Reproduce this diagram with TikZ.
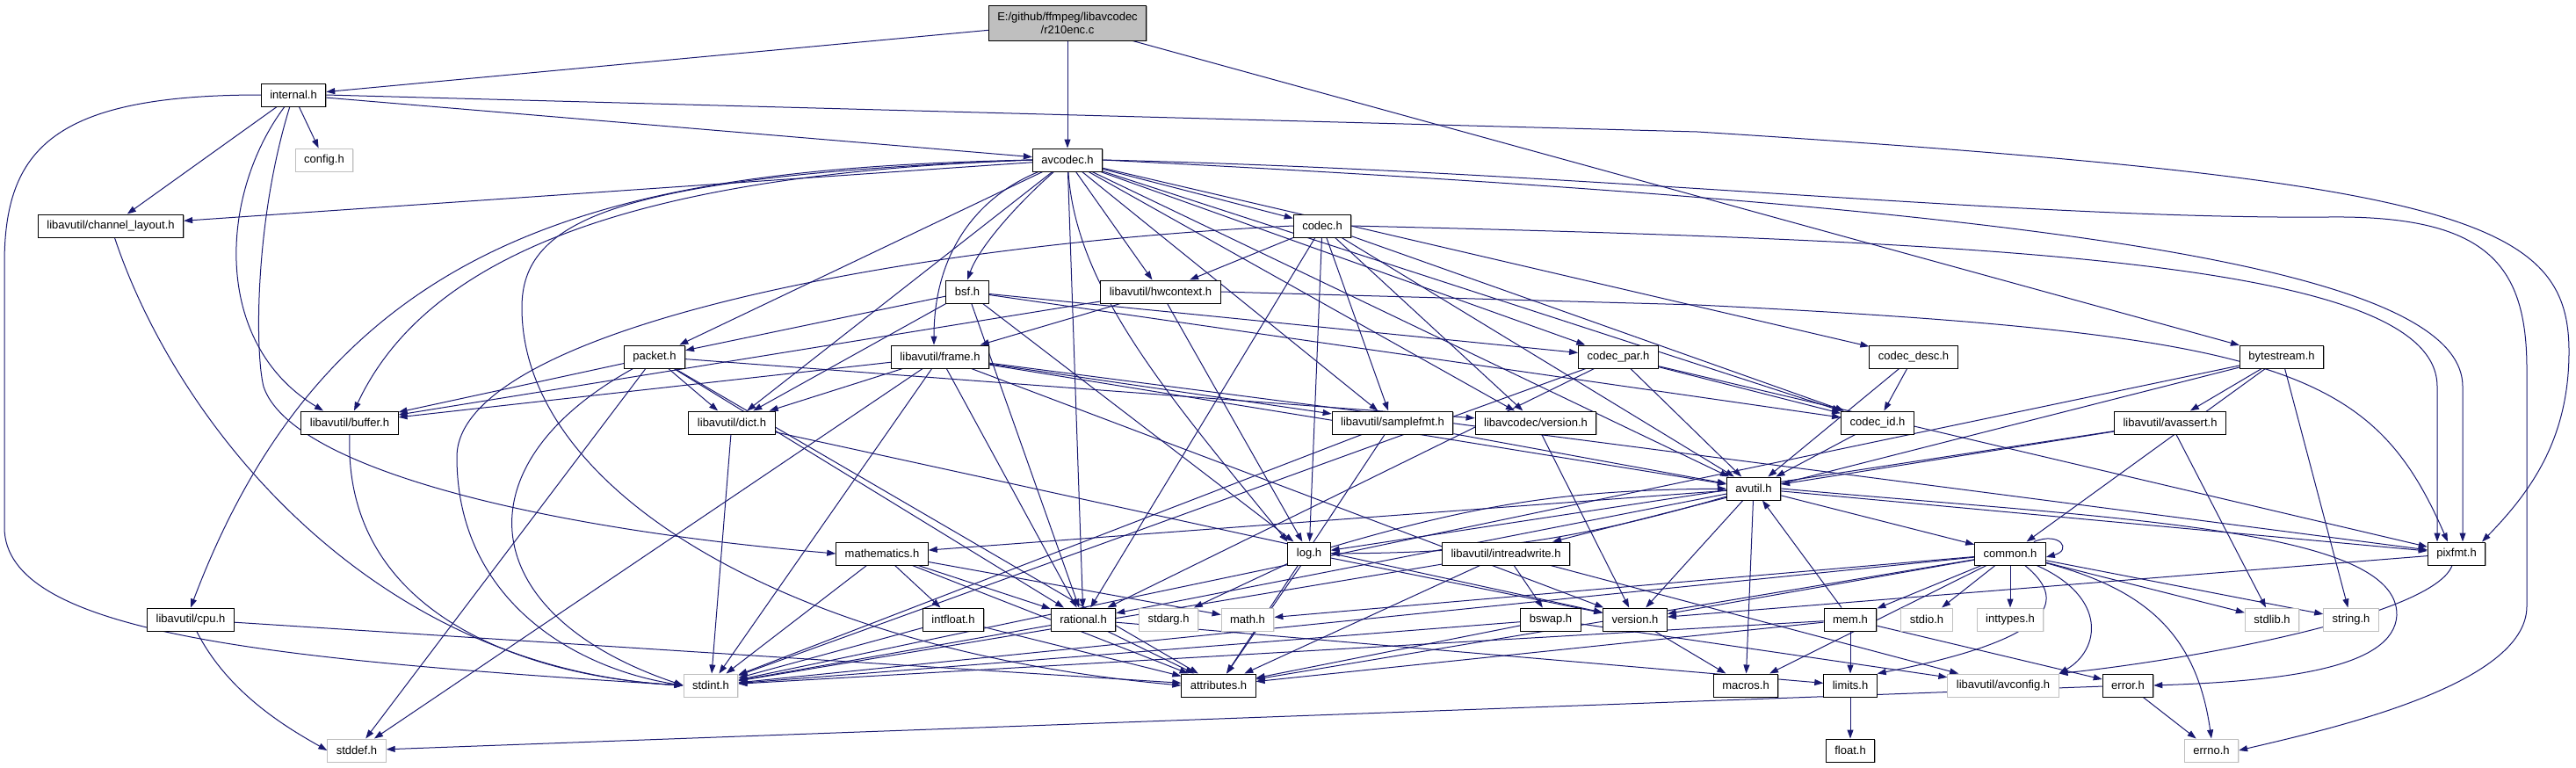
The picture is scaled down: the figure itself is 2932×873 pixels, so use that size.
\documentclass[tikz,border=0pt]{standalone}
\usepackage{fontspec}
\setmainfont{Liberation Sans}
\usetikzlibrary{arrows.meta,backgrounds,shadows}
\definecolor{edgeblue}{RGB}{25,25,112}
\definecolor{boxgray}{RGB}{191,191,191}

\begin{document}
\begin{tikzpicture}[x=1pt,y=-1pt,
      font=\fontsize{13}{15}\selectfont,
      box/.style={fill=white,line width=1pt,inner xsep=10pt,inner ysep=0pt,minimum height=26pt},
      hdr/.style={box,draw=black,drop shadow={shadow xshift=1pt,shadow yshift=-1pt,fill=black!65}},
      sys/.style={box,draw=boxgray,drop shadow={shadow xshift=1pt,shadow yshift=-1pt,fill=boxgray!80}},
      srcfile/.style={hdr,fill=boxgray,align=center,minimum height=40pt},
      dep/.style={draw=edgeblue,line width=1pt,-{Triangle[length=10pt,width=7pt]}}]
    \useasboundingbox (0,0) rectangle (2932,873);
    % the file itself
    \node[srcfile] (r210) at (1215,26) {E:/github/ffmpeg/libavcodec\\/r210enc.c};
    % headers, row by row
    \node[hdr] (internal) at (334,108) {internal.h};
    \node[sys] (config) at (369,182) {config.h};
    \node[hdr] (avcodec) at (1215,182) {avcodec.h};
    \node[hdr] (chlayout) at (126,257) {libavutil/channel\_layout.h};
    \node[hdr] (codec) at (1505,257) {codec.h};
    \node[hdr] (bsf) at (1101,332) {bsf.h};
    \node[hdr] (hwctx) at (1321,332) {libavutil/hwcontext.h};
    \node[hdr] (packet) at (745,406) {packet.h};
    \node[hdr] (frame) at (1070,406) {libavutil/frame.h};
    \node[hdr] (codecpar) at (1842,406) {codec\_par.h};
    \node[hdr] (codecdesc) at (2178,406) {codec\_desc.h};
    \node[hdr] (bytestream) at (2597,406) {bytestream.h};
    \node[hdr] (buffer) at (398,481) {libavutil/buffer.h};
    \node[hdr] (dict) at (833,481) {libavutil/dict.h};
    \node[hdr] (samplefmt) at (1585,481) {libavutil/samplefmt.h};
    \node[hdr] (avcver) at (1748,481) {libavcodec/version.h};
    \node[hdr] (codecid) at (2137,481) {codec\_id.h};
    \node[hdr] (avassert) at (2470,481) {libavutil/avassert.h};
    \node[hdr] (avutil) at (1996,556) {avutil.h};
    \node[hdr] (mathematics) at (1004,630) {mathematics.h};
    \node[hdr] (log) at (1490,630) {log.h};
    \node[hdr] (intrw) at (1714,630) {libavutil/intreadwrite.h};
    \node[hdr] (common) at (2288,630) {common.h};
    \node[hdr] (pixfmt) at (2796,630) {pixfmt.h};
    \node[hdr] (cpu) at (217,705) {libavutil/cpu.h};
    \node[hdr] (intfloat) at (1085,705) {intfloat.h};
    \node[hdr] (rational) at (1233,705) {rational.h};
    \node[sys] (stdarg) at (1330,705) {stdarg.h};
    \node[sys] (math) at (1420,705) {math.h};
    \node[hdr] (bswap) at (1765,705) {bswap.h};
    \node[hdr] (version) at (1861,705) {version.h};
    \node[hdr] (mem) at (2106,705) {mem.h};
    \node[sys] (stdio) at (2193,705) {stdio.h};
    \node[sys] (inttypes) at (2288,705) {inttypes.h};
    \node[sys] (stdlib) at (2586,705) {stdlib.h};
    \node[sys] (string) at (2676,705) {string.h};
    \node[sys] (stdint) at (809,780) {stdint.h};
    \node[hdr] (attributes) at (1387,780) {attributes.h};
    \node[hdr] (macros) at (1987,780) {macros.h};
    \node[hdr] (limits) at (2106,780) {limits.h};
    \node[sys] (avconfig) at (2280,780) {libavutil/avconfig.h};
    \node[hdr] (error) at (2422,780) {error.h};
    \node[sys] (stddef) at (406,854) {stddef.h};
    \node[hdr] (float) at (2106,854) {float.h};
    \node[sys] (errno) at (2517,854) {errno.h};

    \begin{scope}[on background layer]
    % plain include edges
    \foreach \a/\b in {r210/internal, r210/avcodec, r210/bytestream,
        internal/avcodec, internal/config, internal/chlayout,
        avcodec/samplefmt, avcodec/avutil, avcodec/chlayout, avcodec/dict,
        avcodec/hwctx, avcodec/rational, avcodec/codec,
        avcodec/codecdesc, avcodec/codecpar, avcodec/codecid, avcodec/packet, avcodec/avcver,
        codec/avutil, codec/hwctx, codec/log, codec/rational, codec/samplefmt, codec/codecid, codec/avcver,
        bsf/dict, bsf/log, bsf/rational, bsf/codecid, bsf/codecpar, bsf/packet,
        hwctx/buffer, hwctx/frame, hwctx/log,
        frame/stddef, frame/stdint, frame/avutil, frame/buffer, frame/dict, frame/rational,
        frame/samplefmt, frame/pixfmt, frame/version,
        packet/stddef, packet/attributes, packet/buffer, packet/dict, packet/rational, packet/avcver,
        codecpar/stdint, codecpar/avutil, codecpar/rational, codecpar/pixfmt, codecpar/codecid,
        codecdesc/avutil, codecdesc/codecid, codecid/avutil, avcver/version,
        samplefmt/stdint, samplefmt/avutil, samplefmt/attributes,
        dict/stdint, dict/version, cpu/attributes,
        bytestream/stdint, bytestream/string, bytestream/avassert, bytestream/common, bytestream/intrw,
        avassert/stdlib, avassert/avutil, avassert/log,
        avutil/common, avutil/rational, avutil/version, avutil/macros, avutil/mathematics, avutil/pixfmt,
        log/stdarg, log/attributes, log/version,
        mathematics/stdint, mathematics/math, mathematics/attributes, mathematics/rational, mathematics/intfloat,
        intrw/stdint, intrw/avconfig, intrw/attributes, intrw/bswap,
        common/inttypes, common/math, common/stdint, common/stdio, common/stdlib, common/string,
        common/attributes, common/macros, common/version, common/mem,
        pixfmt/version,
        mem/limits, mem/stdint, mem/attributes, mem/error, mem/avutil,
        bswap/stdint, bswap/avconfig, bswap/attributes,
        rational/stdint, rational/limits, rational/attributes,
        intfloat/stdint, intfloat/attributes,
        version/macros, error/errno, error/stddef, limits/float}
      \draw[dep] (\a) -- (\b);
    % routed edges
    \draw[dep] (avcodec) .. controls (1160,230) and (1115,280) .. (bsf.north);
    \draw[dep] (avcodec) .. controls (1110,225) and (1063,290) .. ([xshift=-7pt]frame.north);
    \draw[dep] (avcodec) .. controls (1225,330) and (1330,450) .. (log.north west);
    \draw[dep] (log) to[bend left=8] (avutil);
    \draw[dep] (avutil) to[bend left=8] (log);
    \draw[dep] (internal.west) .. controls (60,108) and (5,170) .. (5,300) -- (5,600)
        .. controls (5,720) and (300,750) .. (stdint.west);
    \draw[dep] (internal) .. controls (250,220) and (240,390) .. ([xshift=-30pt]buffer.north);
    \draw[dep] (internal) .. controls (290,250) and (290,400) .. (300,440)
        .. controls (330,530) and (600,600) .. (mathematics.west);
    \draw[dep] (internal.east) -- (1932,150) .. controls (2800,205) and (2924,250) .. (2924,400)
        .. controls (2924,500) and (2880,560) .. ([xshift=29pt]pixfmt.north);
    \draw[dep] (avcodec.west) .. controls (700,192) and (380,260) .. (cpu.north);
    \draw[dep] (avcodec.west) .. controls (800,196) and (500,260) .. ([xshift=5pt]buffer.north);
    \draw[dep] (avcodec.west) .. controls (700,200) and (594,250) .. (594,350)
        .. controls (594,560) and (900,740) .. (attributes.west);
    \draw[dep] (avcodec.east) .. controls (1800,195) and (2300,250) .. (2650,247)
        .. controls (2830,245) and (2876,300) .. (2876,420) -- (2876,690)
        .. controls (2876,780) and (2650,830) .. (errno.east);
    \draw[dep] (avcodec.east) .. controls (2300,235) and (2803,300) .. (2803,440) -- ([xshift=7pt]pixfmt.north);
    \draw[dep] (codec.east) .. controls (2300,275) and (2774,300) .. (2774,440) -- ([xshift=-22pt]pixfmt.north);
    \draw[dep] (codec.west) .. controls (1000,280) and (520,380) .. (520,520)
        .. controls (520,680) and (650,760) .. (stdint.west);
    \draw[dep] (hwctx.east) -- (1932,347) .. controls (2600,380) and (2700,420) .. ([xshift=-10pt]pixfmt.north);
    \draw[dep] (chlayout) .. controls (200,480) and (420,760) .. (stdint.west);
    \draw[dep] (buffer.south) .. controls (390,700) and (600,770) .. (stdint.west);
    \draw[dep] (packet) .. controls (520,530) and (540,700) .. (stdint.west);
    \draw[dep] (cpu) .. controls (260,790) and (330,830) .. (stddef.west);
    \draw[dep] (avutil.east) .. controls (2400,590) and (2730,600) .. (2728,700)
        .. controls (2725,760) and (2600,775) .. (error.east);
    \draw[dep] (common) .. controls (2440,670) and (2500,720) .. (errno.north);
    \draw[dep] (common) .. controls (2350,680) and (2350,725) .. (limits.north east);
    \draw[dep] (common) .. controls (2400,680) and (2390,740) .. (avconfig.north east);
    \draw[dep] (pixfmt) .. controls (2770,700) and (2500,750) .. (avconfig.north east);
    \draw[dep] ([xshift=-14pt]common.north east) .. controls +(30,-12) and +(30,-8) .. ([yshift=-4pt]common.east);
    \end{scope}
  \end{tikzpicture}
\end{document}
